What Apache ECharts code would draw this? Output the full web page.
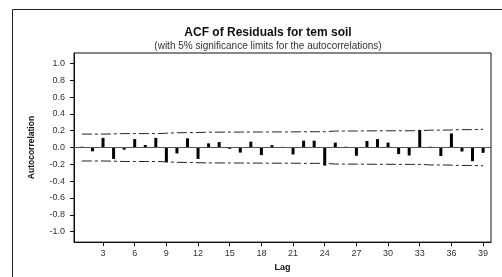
<!DOCTYPE html>
<html>
<head>
<meta charset="utf-8">
<script src="https://cdn.jsdelivr.net/npm/echarts@6/dist/echarts.min.js"></script>
<style>html,body{margin:0;padding:0;background:#fff;}#c{width:502px;height:277px;}</style>
</head>
<body>
<div id="c"></div>
<script>
const lags = [1,2,3,4,5,6,7,8,9,10,11,12,13,14,15,16,17,18,19,20,21,22,23,24,25,26,27,28,29,30,31,32,33,34,35,36,37,38,39];
const acf = [0.01,-0.045,0.115,-0.135,-0.025,0.10,0.03,0.115,-0.175,-0.07,0.11,-0.135,0.05,0.065,-0.015,-0.06,0.07,-0.09,0.028,0.008,-0.082,0.082,0.082,-0.215,0.059,0.01,-0.098,0.078,0.10,0.059,-0.078,-0.094,0.21,0.01,-0.10,0.168,-0.047,-0.162,-0.063];
const upperLimit = [0.160,0.160,0.160,0.162,0.166,0.166,0.166,0.166,0.170,0.176,0.177,0.180,0.183,0.183,0.184,0.184,0.185,0.185,0.186,0.186,0.186,0.188,0.188,0.188,0.196,0.197,0.197,0.198,0.199,0.199,0.200,0.200,0.201,0.207,0.207,0.209,0.213,0.213,0.217];
const lowerLimit = [-0.160,-0.160,-0.160,-0.162,-0.166,-0.166,-0.166,-0.166,-0.170,-0.176,-0.177,-0.180,-0.183,-0.183,-0.184,-0.184,-0.185,-0.185,-0.186,-0.186,-0.186,-0.188,-0.188,-0.188,-0.196,-0.197,-0.197,-0.198,-0.199,-0.199,-0.200,-0.200,-0.201,-0.207,-0.207,-0.209,-0.213,-0.213,-0.217];
const xTicks = [3,6,9,12,15,18,21,24,27,30,33,36,39];
const yTicks = [-1.0,-0.8,-0.6,-0.4,-0.2,0.0,0.2,0.4,0.6,0.8,1.0];
const titleText = 'ACF of Residuals for tem soil';
const subtitleText = '(with 5% significance limits for the autocorrelations)';

const FONT = "'Liberation Sans', Arial, sans-serif";
const chart = echarts.init(document.getElementById('c'), null, {renderer: 'canvas'});
const dash = [10,3,3,3];
chart.setOption({
  animation: false,
  backgroundColor: '#fff',
  title: {
    text: titleText,
    subtext: subtitleText,
    left: 263, textAlign: 'center', top: 22, itemGap: 2,
    textStyle: {fontFamily: FONT, fontSize: 12, fontWeight: 'bold', color: '#111'},
    subtextStyle: {fontFamily: FONT, fontSize: 10, color: '#333'}
  },
  graphic: [{
    type: 'polyline', silent: true,
    shape: {points: [[12.5, 278], [12.5, 9.5], [503, 9.5]]},
    style: {stroke: '#222', lineWidth: 1, fill: null}
  }],
  grid: {left: 74, top: 53, width: 417, height: 191, show: true, borderColor: '#111', borderWidth: 1, containLabel: false},
  xAxis: {
    type: 'value', min: 0.25, max: 39.75,
    name: 'Lag', nameLocation: 'middle', nameGap: 19,
    nameTextStyle: {fontFamily: FONT, fontSize: 9, fontWeight: 'bold', color: '#111'},
    axisLine: {show: true, onZero: false, lineStyle: {color: '#111'}},
    axisTick: {show: true, length: 4, customValues: xTicks, lineStyle: {color: '#111'}},
    axisLabel: {customValues: xTicks, margin: 7, fontFamily: FONT, fontSize: 9, color: '#333'},
    splitLine: {show: false}
  },
  yAxis: {
    type: 'value', min: -1.125, max: 1.125,
    name: 'Autocorrelation', nameLocation: 'middle', nameGap: 38, nameRotate: 90,
    nameTextStyle: {fontFamily: FONT, fontSize: 8.5, fontWeight: 'bold', color: '#111'},
    axisLine: {show: true, onZero: false, lineStyle: {color: '#111'}},
    axisTick: {show: true, length: 4, customValues: yTicks, lineStyle: {color: '#111'}},
    axisLabel: {customValues: yTicks, margin: 9, fontFamily: FONT, fontSize: 9, color: '#333',
      formatter: v => (Math.abs(v) < 1e-9 ? 0 : v).toFixed(1)},
    splitLine: {show: false}
  },
  series: [
    {
      type: 'bar', barWidth: 3,
      data: lags.map((l, i) => [l, acf[i]]),
      itemStyle: {color: '#000'},
      markLine: {
        silent: true, symbol: ['none', 'none'], label: {show: false},
        lineStyle: {color: '#555', width: 1, type: 'solid'},
        data: [{yAxis: 0}]
      },
      z: 3
    },
    {
      type: 'line', symbol: 'none',
      data: lags.map((l, i) => [l, upperLimit[i]]),
      lineStyle: {color: '#222', width: 1, type: dash}
    },
    {
      type: 'line', symbol: 'none',
      data: lags.map((l, i) => [l, lowerLimit[i]]),
      lineStyle: {color: '#222', width: 1, type: dash}
    }
  ]
});
</script>
</body>
</html>
